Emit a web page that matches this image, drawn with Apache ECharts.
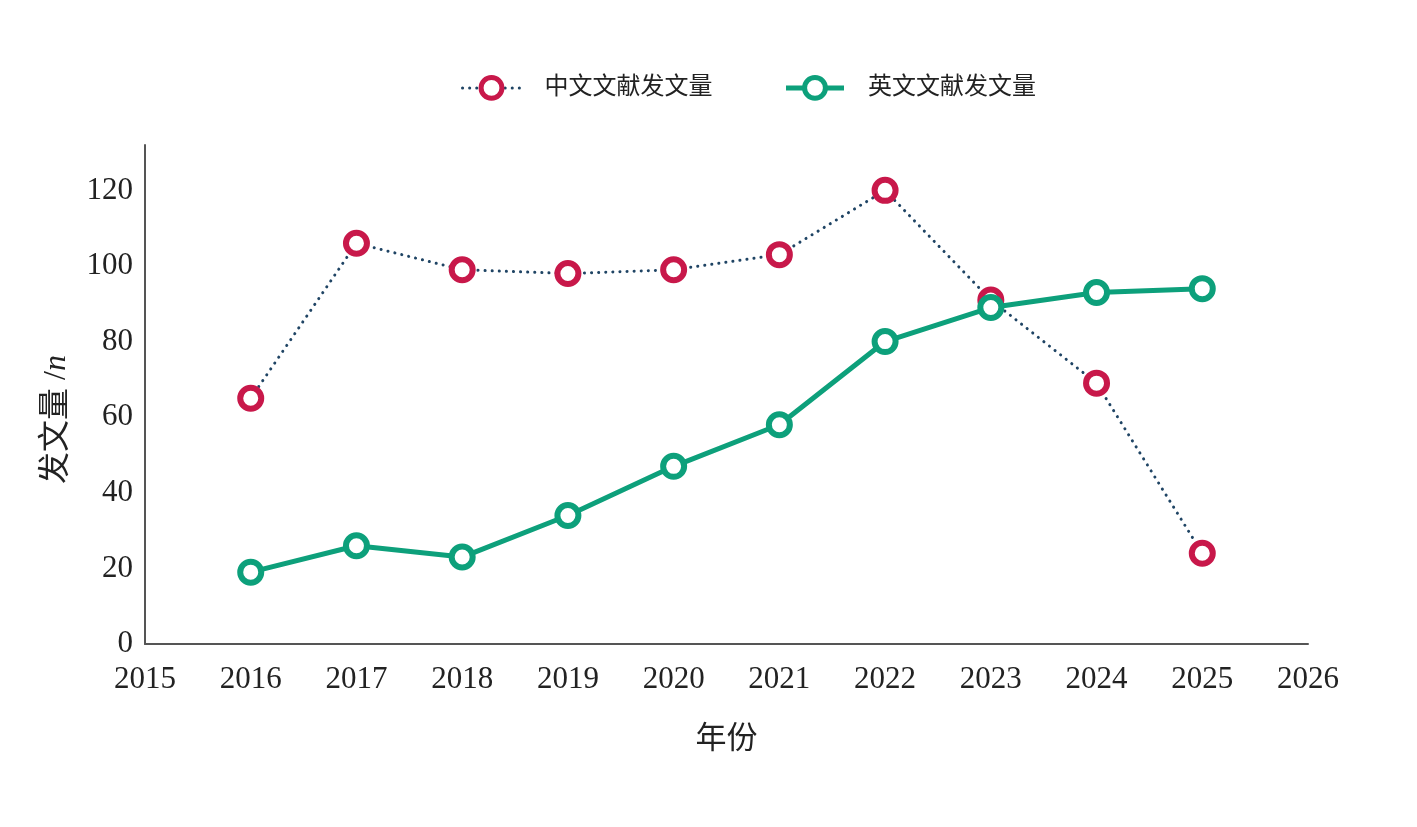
<!DOCTYPE html>
<html>
<head>
<meta charset="utf-8">
<script src="https://cdn.jsdelivr.net/npm/echarts@6/dist/echarts.min.js"></script>
<style>html,body{margin:0;padding:0;background:#fff}#c{width:1417px;height:827px}</style>
</head>
<body>
<div id="c"></div>
<script>
const years = [2016, 2017, 2018, 2019, 2020, 2021, 2022, 2023, 2024, 2025];
const chineseCounts = [65, 106, 99, 98, 99, 103, 120, 91, 69, 24];
const englishCounts = [19, 26, 23, 34, 47, 58, 80, 89, 93, 94];
const seriesNames = ['中文文献发文量', '英文文献发文量'];
const xAxisTitle = '年份';

const serif = '"Liberation Serif", "DejaVu Serif", "Noto Sans CJK SC", serif';
const chart = echarts.init(document.getElementById('c'));
chart.setOption({
  backgroundColor: '#fff',
  animation: false,
  legend: {
    top: 70,
    left: 456,
    itemWidth: 58,
    itemHeight: 26,
    itemGap: 71,
    textStyle: { fontFamily: serif, fontSize: 24, color: '#222', padding: [0, 0, 0, 19] },
    data: [
      { name: seriesNames[0], itemStyle: { borderWidth: 5 }, lineStyle: { width: 3 } },
      { name: seriesNames[1], itemStyle: { borderWidth: 5 }, lineStyle: { width: 5 } }
    ]
  },
  grid: { left: 145, right: 109, top: 145, bottom: 183, containLabel: false },
  xAxis: {
    type: 'value',
    min: 2015, max: 2026, interval: 1,
    name: xAxisTitle,
    nameLocation: 'middle',
    nameGap: 80,
    nameTextStyle: { fontFamily: serif, fontSize: 31, color: '#222' },
    axisLine: { show: true, lineStyle: { color: '#555', width: 2 } },
    axisTick: { show: false },
    splitLine: { show: false },
    axisLabel: { margin: 20, fontFamily: serif, fontSize: 31, color: '#222', formatter: v => String(v) }
  },
  yAxis: {
    type: 'value',
    min: 0, max: 132, interval: 20,
    name: '{a|发文量 /}{b|n}',
    nameLocation: 'middle',
    nameGap: 72,
    nameTextStyle: {
      padding: [0, 50, 0, 0],
      rich: {
        a: { fontFamily: serif, fontSize: 32, color: '#222' },
        b: { fontFamily: serif, fontSize: 32, color: '#222', fontStyle: 'italic' }
      }
    },
    axisLine: { show: true, lineStyle: { color: '#555', width: 2 } },
    axisTick: { show: false },
    splitLine: { show: false },
    axisLabel: {
      margin: 12, fontFamily: serif, fontSize: 31, color: '#222',
      showMaxLabel: false,
      formatter: v => (v % 20 === 0 ? String(v) : '')
    }
  },
  series: [
    {
      name: seriesNames[0],
      type: 'line',
      data: years.map((y, i) => [y, chineseCounts[i]]),
      symbol: 'circle',
      symbolSize: 21,
      lineStyle: { color: '#1f4464', width: 3, type: [0.1, 7], cap: 'round' },
      itemStyle: { color: '#ffffff', borderColor: '#c8184a', borderWidth: 6 },
      z: 2
    },
    {
      name: seriesNames[1],
      type: 'line',
      data: years.map((y, i) => [y, englishCounts[i]]),
      symbol: 'circle',
      symbolSize: 21,
      lineStyle: { color: '#0da07b', width: 5 },
      itemStyle: { color: '#ffffff', borderColor: '#0da07b', borderWidth: 6 },
      z: 3
    }
  ]
});
</script>
</body>
</html>
